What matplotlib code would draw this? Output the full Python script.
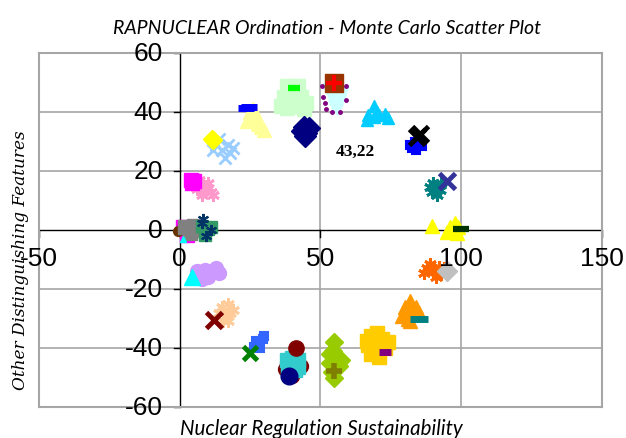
import numpy as np
import matplotlib.pyplot as plt

# ---- values (x, y of each Monte Carlo point) ----
pink_star_x = [7, 9, 11, 8, 10, 12, 6]
pink_star_y = [17, 15, 13, 12, 16, 12, 14]
magenta_sq_x = [4, 5, 4.5]
magenta_sq_y = [17, 16.5, 16]

ltblue_x_x = [13, 15, 17, 18, 16, 14, 19, 12]
ltblue_x_y = [29, 27, 29, 26, 24.5, 31, 28, 27]
yellow_dia_x = [11.5, 12]
yellow_dia_y = [31, 30.5]

ltyellow_tri_x = [25, 26, 28, 29, 27, 30, 24, 26]
ltyellow_tri_y = [40, 38, 36, 35, 39, 34, 37, 41]
blue_dash_x = [23.5, 24.5]
blue_dash_y = [41.5, 41.7]

ltgreen_sq_x = [38, 40, 42, 37, 39, 43, 45, 36, 41, 44, 38]
ltgreen_sq_y = [49, 48, 49, 45, 44, 45, 43, 42, 42, 41, 41.5]
green_dash_x = [40.8]
green_dash_y = [48.3]

navy_dia_x = [44, 45, 43.5, 46, 44.5]
navy_dia_y = [35, 33, 33.5, 34.5, 32]

ltcyan_tri_x = [53, 56, 58, 54, 57, 55, 56, 53.5]
ltcyan_tri_y = [48, 48, 47, 45, 44, 42, 41, 46]
purple_dot_x = [50.5, 51, 52, 54, 59, 59, 57, 51.5]
purple_dot_y = [49, 45, 41, 40, 44, 49, 40, 43]
brown_sq_x = [55]
brown_sq_y = [50]
red_plus_x = [55]
red_plus_y = [50]

skyblue_tri_x = [67, 69, 71, 73, 69, 70, 74, 66.5]
skyblue_tri_y = [39, 38.5, 39, 39.5, 42, 40, 38, 37.5]

blue_sq_x = [82.5, 84, 85, 83.5, 86, 82]
blue_sq_y = [28, 27, 29.5, 30, 28.5, 29]
black_x_x = [84.5, 85.5]
black_x_y = [31.5, 32.5]

teal_star_x = [89.5, 91, 92.5, 90, 93, 91.5, 89]
teal_star_y = [13, 15, 13.5, 16, 16, 12, 14.5]
slate_x_x = [95]
slate_x_y = [16.5]

yellow_tri_x = [89.5, 96, 98, 97, 99, 95, 98.5]
yellow_tri_y = [1.5, 1, 2.5, 0, 1, -0.5, -1]
dkgreen_dash_x = [100]
dkgreen_dash_y = [0.3]

orange_star_x = [88, 90, 92, 91, 89, 93, 87, 94]
orange_star_y = [-13, -14, -12.5, -16, -11.5, -15, -14.5, -13]
gray_dia_x = [95]
gray_dia_y = [-14]

orange_tri_x = [80, 82, 83, 81, 85, 79, 84, 82]
orange_tri_y = [-26, -24, -28, -30, -28, -29, -26, -31]
teal_dash_x = [85]
teal_dash_y = [-30]

gold_sq_x = [68, 70, 72, 67, 70, 73, 68, 71, 66.5, 74]
gold_sq_y = [-36, -35, -37, -39, -40, -40, -42, -43, -37.5, -38]
purple_dash_x = [73]
purple_dash_y = [-41.3]

ygreen_dia_x = [55, 54.5, 56, 53.5, 56.5, 54, 55, 53.5, 57.5]
ygreen_dia_y = [-38, -41, -43, -45, -46, -48, -50, -42, -44]
olive_plus_x = [55]
olive_plus_y = [-47.8]

maroon_ring_x = [38, 37.5, 40, 43]
maroon_ring_y = [-45, -47, -49.5, -46]
turq_sq_x = [38, 40, 42, 39, 42, 38.5, 41]
turq_sq_y = [-44, -43.5, -44, -46, -46.5, -48, -47.5]
maroon_dot_x = [41.2]
maroon_dot_y = [-40]
navy_dot_x = [39]
navy_dot_y = [-49.5]

cblue_sq_x = [26.5, 28, 29.5, 28.5, 27, 30]
cblue_sq_y = [-39.5, -38, -37, -40, -37.5, -36]
green_x_x = [25]
green_x_y = [-41.8]

peach_star_x = [15, 17, 18, 16, 14, 19, 17, 15.5]
peach_star_y = [-26, -25, -28, -29.5, -28, -27, -31, -31]
dkred_x_x = [12.3]
dkred_x_y = [-30.5]

lavender_x = [7, 9, 11, 13, 14, 10, 8, 6]
lavender_y = [-15, -13.5, -14, -13, -14.5, -16, -16.5, -14]
cyan_tri_x = [4.3]
cyan_tri_y = [-15.8]

origin_mag_x = [1, 5, 2.5]
origin_mag_y = [1, 1, -1.5]
origin_brown_x = [-0.5]
origin_brown_y = [-0.3]
origin_gray_x = [2, 3.5, 5, 4]
origin_gray_y = [1, -1, 1.5, 0]
origin_cyan_x = [1]
origin_cyan_y = [-3]
origin_green_x = [8, 10, 9, 11]
origin_green_y = [1.5, 0.5, -1.5, 1]
origin_navy_x = [8, 11, 9.5, 8.2]
origin_navy_y = [2.5, 0, -2, 3.7]

label_text = '43,22'
label_x, label_y = 62.6, 27

x_ticks = [-50, 0, 50, 100, 150]
y_ticks = [-60, -40, -20, 0, 20, 40, 60]

ast = (6, 2, 0)  # excel-like asterisk

# x, y, marker, colour, size, edge width  (drawn in this order)
series = [
    (pink_star_x, pink_star_y, ast, '#FF99CC', 9, 2),
    (magenta_sq_x, magenta_sq_y, 's', '#FF00FF', 10, 1),
    (ltblue_x_x, ltblue_x_y, 'x', '#99CCFF', 9, 2),
    (yellow_dia_x, yellow_dia_y, 'D', '#FFFF00', 9, 1),
    (ltyellow_tri_x, ltyellow_tri_y, '^', '#FFFF99', 10, 1),
    (blue_dash_x, blue_dash_y, '_', '#0000FF', 12, 5),
    (ltgreen_sq_x, ltgreen_sq_y, 's', '#CCFFCC', 10, 1),
    (green_dash_x, green_dash_y, '_', '#00FF00', 8, 4.5),
    (navy_dia_x, navy_dia_y, 'D', '#000080', 11, 1),
    (ltcyan_tri_x, ltcyan_tri_y, 'v', '#CCFFFF', 9, 1),
    (purple_dot_x, purple_dot_y, 'o', '#800080', 2.5, 1),
    (brown_sq_x, brown_sq_y, 's', '#993300', 13, 1),
    (red_plus_x, red_plus_y, '+', '#FF0000', 11, 3),
    (skyblue_tri_x, skyblue_tri_y, '^', '#00CCFF', 8, 1),
    (blue_sq_x, blue_sq_y, 's', '#0000FF', 6, 1.5),
    (black_x_x, black_x_y, 'x', '#000000', 11, 3.5),
    (teal_star_x, teal_star_y, ast, '#008080', 9, 2),
    (slate_x_x, slate_x_y, 'x', '#333399', 11, 3.5),
    (yellow_tri_x, yellow_tri_y, '^', '#FFFF00', 10, 1),
    (dkgreen_dash_x, dkgreen_dash_y, '_', '#003300', 12, 4.5),
    (orange_star_x, orange_star_y, ast, '#FF6600', 9, 2),
    (gray_dia_x, gray_dia_y, 'D', '#C0C0C0', 10, 1),
    (orange_tri_x, orange_tri_y, '^', '#FF9900', 10, 1),
    (teal_dash_x, teal_dash_y, '_', '#008080', 13, 5),
    (gold_sq_x, gold_sq_y, 's', '#FFCC00', 10, 1),
    (purple_dash_x, purple_dash_y, '_', '#800080', 9, 5),
    (ygreen_dia_x, ygreen_dia_y, 'D', '#99CC00', 9, 1),
    (olive_plus_x, olive_plus_y, '+', '#808000', 11, 4),
    (maroon_ring_x, maroon_ring_y, 'o', '#800000', 10, 1),
    (turq_sq_x, turq_sq_y, 's', '#33CCCC', 10, 1),
    (maroon_dot_x, maroon_dot_y, 'o', '#800000', 11, 1),
    (navy_dot_x, navy_dot_y, 'o', '#000080', 12, 1),
    (cblue_sq_x, cblue_sq_y, 's', '#3366FF', 6, 1.5),
    (green_x_x, green_x_y, 'x', '#008000', 10, 3.5),
    (peach_star_x, peach_star_y, ast, '#FFCC99', 9, 2),
    (dkred_x_x, dkred_x_y, 'x', '#800000', 11, 3.5),
    (lavender_x, lavender_y, 'o', '#CC99FF', 10, 1),
    (cyan_tri_x, cyan_tri_y, '^', '#00FFFF', 11, 1),
    (origin_mag_x, origin_mag_y, 's', '#FF00FF', 10, 1),
    (origin_brown_x, origin_brown_y, 'o', '#663300', 7, 1),
    (origin_gray_x, origin_gray_y, 's', '#808080', 10, 1),
    (origin_cyan_x, origin_cyan_y, '^', '#00FFFF', 5, 1),
    (origin_green_x, origin_green_y, 's', '#339966', 9, 1),
    (origin_navy_x, origin_navy_y, ast, '#003366', 8, 1.5),
]

fig = plt.figure(figsize=(6.26, 4.39), dpi=100)
ax = fig.add_axes([0.0623, 0.0706, 0.899, 0.806])

for xs, ys, m, c, s, w in series:
    ax.plot(xs, ys, linestyle='none', marker=m, color=c, markersize=s,
            markeredgewidth=w, markeredgecolor=c, zorder=3)

ax.text(label_x, label_y, label_text, ha='center', va='center',
        fontsize=12.5, fontweight='bold', family='Liberation Serif', zorder=4)

ax.set_xlim(-50, 150)
ax.set_ylim(-60, 60)
ax.set_xticks([])
ax.set_yticks([])

# grid + outer frame
for gx in [50, 100]:
    ax.axvline(gx, color='#A6A6A6', lw=1.2, zorder=1)
for gy in [-40, -20, 20, 40]:
    ax.axhline(gy, color='#A6A6A6', lw=1.2, zorder=1)
for side in ['top', 'right', 'left', 'bottom']:
    ax.spines[side].set_color('#A6A6A6')
    ax.spines[side].set_linewidth(1.5)
# axis lines through zero
ax.axvline(0, color='black', lw=1, zorder=2)
ax.axhline(0, color='black', lw=1, zorder=2)

# tick marks and labels sit on the zero lines, like in excel
for t in x_ticks:
    ax.plot([t, t], [0, -2.2], color='black', lw=1, clip_on=False, zorder=2)
    ax.text(t, -5.5, str(t), ha='center', va='top', fontsize=19,
            family='Liberation Sans', clip_on=False, zorder=5)
for t in y_ticks:
    ax.plot([0, -2.2], [t, t], color='black', lw=1, clip_on=False, zorder=2)
    ax.text(-6, t, str(t), ha='right', va='center', fontsize=19,
            family='Liberation Sans', clip_on=False, zorder=5)

fig.text(0.522, 0.934, 'RAPNUCLEAR Ordination - Monte Carlo Scatter Plot',
         ha='center', va='center', fontsize=14, style='italic', family='Lato')
fig.text(0.514, 0.022, 'Nuclear Regulation Sustainability',
         ha='center', va='center', fontsize=14.8, style='italic', family='Lato')
fig.text(0.032, 0.408, 'Other Distinguishing Features', rotation=90,
         ha='center', va='center', fontsize=12.2, style='italic', family='DejaVu Serif')

fig.savefig('out.png', dpi=100)
